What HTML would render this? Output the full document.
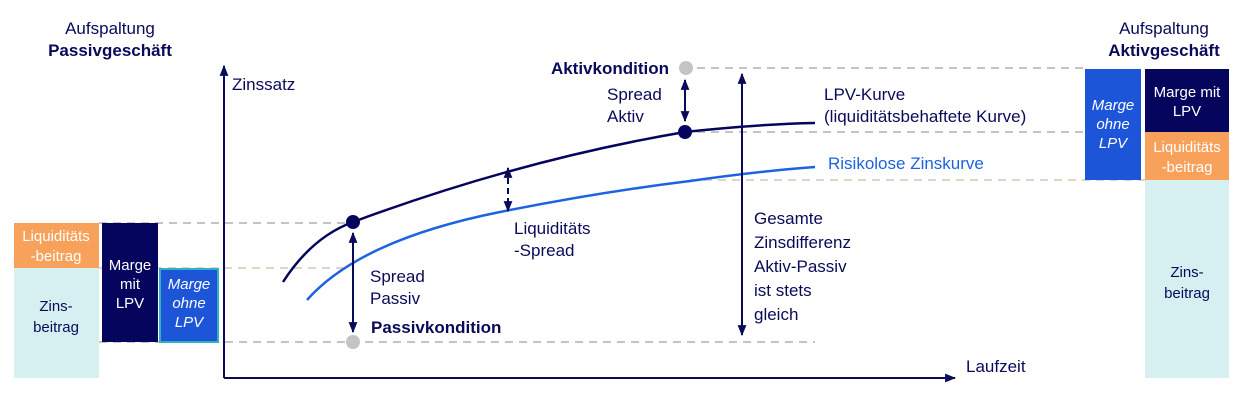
<!DOCTYPE html>
<html><head><meta charset="utf-8"><style>
body{margin:0;background:#fff;}
svg{display:block;font-family:"Liberation Sans",sans-serif;}
</style></head><body>
<svg width="1242" height="416" viewBox="0 0 1242 416" xmlns="http://www.w3.org/2000/svg">
<defs>
<marker id="ah" viewBox="0 0 10 10" refX="9" refY="5" markerWidth="5.5" markerHeight="5.5" orient="auto-start-reverse"><path d="M0,1 L10,5 L0,9 z" fill="#0a0a5a"/></marker>
</defs>
<g stroke-dasharray="8,6" stroke-width="2" fill="none">
<line x1="697" y1="68" x2="1085" y2="68" stroke="#c4c4c4"/>
<line x1="697" y1="132" x2="1085" y2="132" stroke="#c4c4c4"/>
<line x1="690" y1="180" x2="1145" y2="180" stroke="#ddd5c8"/>
<line x1="99" y1="223" x2="350" y2="223" stroke="#c4c4c4"/>
<line x1="14" y1="268" x2="350" y2="268" stroke="#ddd5c8"/>
<line x1="99" y1="342" x2="815" y2="342" stroke="#c4c4c4"/>
</g>
<rect x="14" y="223" width="85" height="45" fill="#f7a15a"/>
<rect x="14" y="268" width="85" height="110" fill="#d6f0f2"/>
<rect x="102" y="223" width="56" height="119" fill="#05055e"/>
<rect x="160" y="269" width="58" height="73" fill="#1d55d9" stroke="#2fb1c0" stroke-width="2"/>
<g font-size="15" text-anchor="middle">
<text x="56" y="241" fill="#fff">Liquiditäts</text><text x="56" y="261" fill="#fff">-beitrag</text>
<text x="56" y="311" fill="#0a0a5a">Zins-</text><text x="56" y="332" fill="#0a0a5a">beitrag</text>
<text x="130" y="270" fill="#fff">Marge</text><text x="130" y="289" fill="#fff">mit</text><text x="130" y="308" fill="#fff">LPV</text>
<g font-style="italic" fill="#fff"><text x="189" y="289">Marge</text><text x="189" y="308">ohne</text><text x="189" y="327">LPV</text></g>
</g>
<rect x="1085" y="69" width="56" height="111" fill="#1d55d9"/>
<rect x="1145" y="69" width="84" height="63" fill="#05055e"/>
<rect x="1145" y="132" width="84" height="48" fill="#f7a15a"/>
<rect x="1145" y="180" width="84" height="198" fill="#d6f0f2"/>
<g font-size="15" text-anchor="middle">
<g font-style="italic" fill="#fff"><text x="1113" y="110">Marge</text><text x="1113" y="129">ohne</text><text x="1113" y="148">LPV</text></g>
<text x="1187" y="97" fill="#fff">Marge mit</text><text x="1187" y="116" fill="#fff">LPV</text>
<text x="1187" y="152" fill="#fff">Liquiditäts</text><text x="1187" y="172" fill="#fff">-beitrag</text>
<text x="1187" y="277" fill="#0a0a5a">Zins-</text><text x="1187" y="298" fill="#0a0a5a">beitrag</text>
</g>
<g font-size="17" text-anchor="middle" fill="#0a0a5a">
<text x="110" y="34">Aufspaltung</text><text x="110" y="56" font-weight="bold">Passivgeschäft</text>
<text x="1164" y="34">Aufspaltung</text><text x="1164" y="56" font-weight="bold">Aktivgeschäft</text>
</g>
<line x1="224" y1="378" x2="224" y2="66" stroke="#0a0a5a" stroke-width="2" marker-end="url(#ah)"/>
<line x1="224" y1="378" x2="955" y2="378" stroke="#0a0a5a" stroke-width="2" marker-end="url(#ah)"/>
<text x="232" y="90" font-size="17" fill="#0a0a5a">Zinssatz</text>
<text x="966" y="372" font-size="17" fill="#0a0a5a">Laufzeit</text>
<path d="M283,282 Q312,237 353,222 Q520,160 685,132 Q760,124 815,123" stroke="#05055e" stroke-width="2.5" fill="none"/>
<path d="M307,300 Q360,240 500,212 Q600,192 690,181 Q760,171 815,167" stroke="#1d63e0" stroke-width="2.5" fill="none"/>
<g stroke="#0a0a5a" stroke-width="2">
<line x1="353" y1="233" x2="353" y2="332" marker-start="url(#ah)" marker-end="url(#ah)"/>
<line x1="685" y1="80" x2="685" y2="121" marker-start="url(#ah)" marker-end="url(#ah)"/>
<line x1="508" y1="168" x2="508" y2="211" stroke-dasharray="6,4" marker-start="url(#ah)" marker-end="url(#ah)"/>
<line x1="742" y1="74" x2="742" y2="335" marker-start="url(#ah)" marker-end="url(#ah)"/>
</g>
<circle cx="353" cy="222" r="7" fill="#05055e"/>
<circle cx="685" cy="132" r="7" fill="#05055e"/>
<circle cx="353" cy="342" r="7" fill="#c4c4c4"/>
<circle cx="686" cy="68" r="7" fill="#c4c4c4"/>
<g font-size="17" fill="#0a0a5a">
<text x="669" y="74" text-anchor="end" font-weight="bold">Aktivkondition</text>
<text x="607" y="100">Spread</text><text x="607" y="122">Aktiv</text>
<text x="824" y="100">LPV-Kurve</text><text x="824" y="122">(liquiditätsbehaftete Kurve)</text>
<text x="514" y="234">Liquiditäts</text><text x="514" y="256">-Spread</text>
<text x="370" y="282">Spread</text><text x="370" y="304">Passiv</text>
<text x="371" y="333" font-weight="bold">Passivkondition</text>
<text x="754" y="224">Gesamte</text><text x="754" y="248">Zinsdifferenz</text><text x="754" y="272">Aktiv-Passiv</text><text x="754" y="296">ist stets</text><text x="754" y="320">gleich</text>
</g>
<text x="828" y="169" font-size="17" fill="#1d63e0">Risikolose Zinskurve</text>
</svg>
</body></html>
